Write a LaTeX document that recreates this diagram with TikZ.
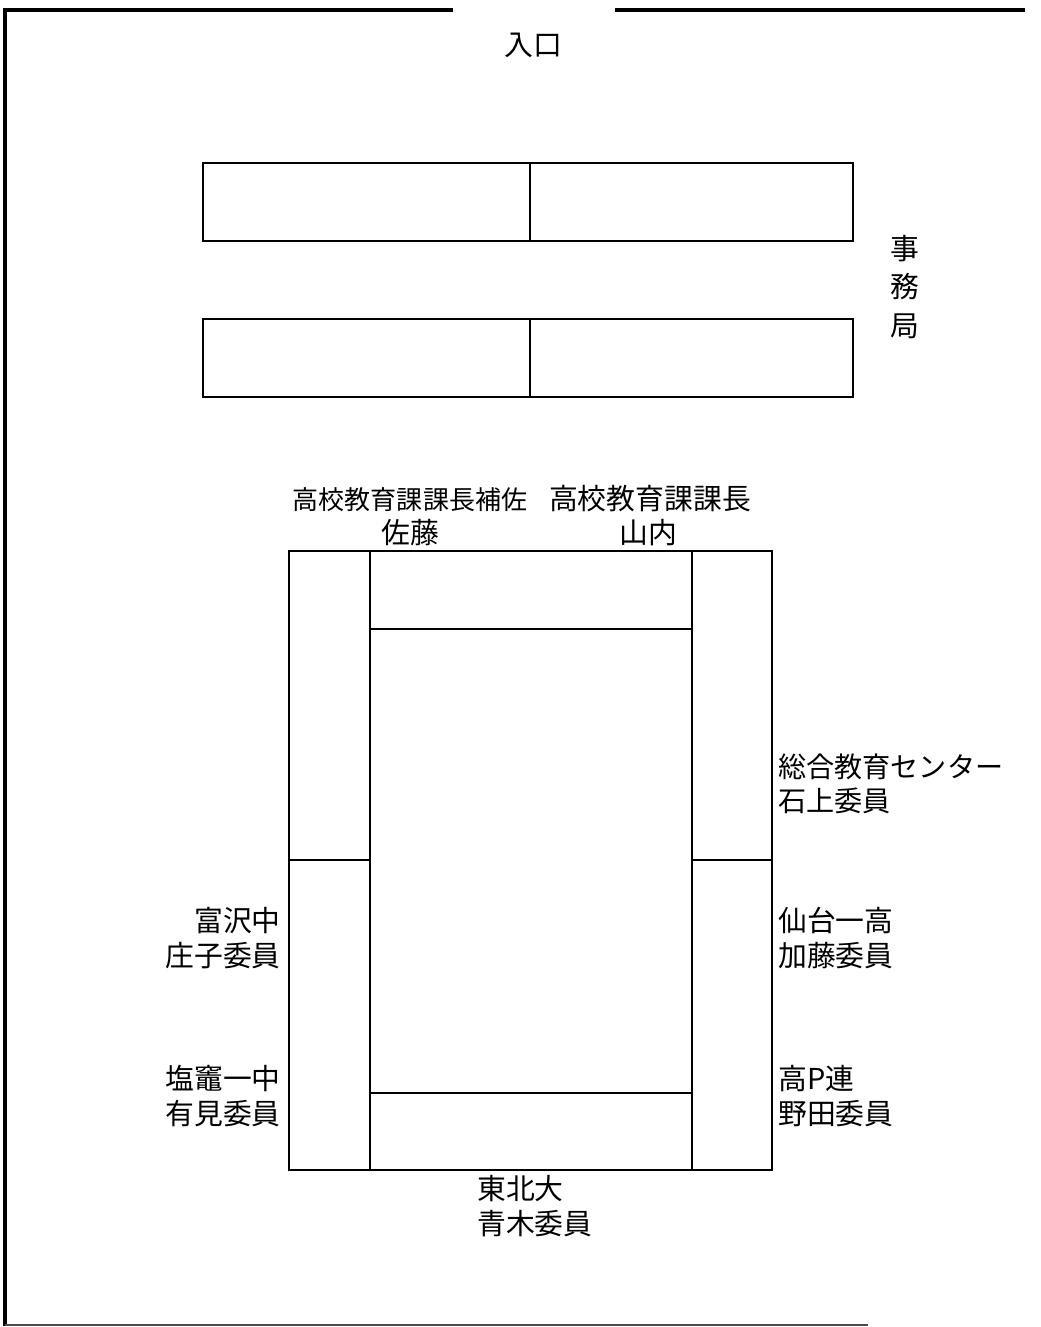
\documentclass[tikz,border=0pt]{standalone}
\usepackage{fontspec}
\setmainfont{Noto Sans CJK JP}
\usepackage{tikz}
\usetikzlibrary{positioning}
\tikzset{
every node/.style={ % text of the labels
inner sep=0pt,
font=\fontsize{20.5}{24.5}\selectfont},
desk/.style={line width=1.4pt}, % tables
wall/.style={line width=3.5pt}, % room outline
thin wall/.style={line width=1pt, black!70},
small label/.style={font=\fontsize{18.5}{22}\selectfont},
tall label/.style={align=center, font=\fontsize{20.5}{27.5}\selectfont}}

\begin{document}
\begin{tikzpicture}[x=0.025cm, y=-0.025cm]
\useasboundingbox (0,0) rectangle (1040,1327);
% room
\draw[wall] (5,10) -- (453,10);
\draw[wall] (615,10) -- (1025,10);
\draw[wall] (5,8) -- (5,1326);
\draw[thin wall] (5,1325) -- (868,1325);
\node (entrance) at (533,45) {入口};
% secretariat tables
\draw[desk] (203,163) rectangle (853,241);
\draw[desk] (530,163) -- (530,241);
\draw[desk] (203,319) rectangle (853,397);
\draw[desk] (530,319) -- (530,397);
\node[tall label] (office) at (905,287) {事\\務\\局};
% meeting table
\draw[desk] (289,551) rectangle (772,1170);
\draw[desk] (370,551) -- (370,1170);
\draw[desk] (692,551) -- (692,1170);
\draw[desk] (289,860) -- (370,860);
\draw[desk] (692,860) -- (772,860);
\draw[desk] (370,629) -- (692,629);
\draw[desk] (370,1093) -- (692,1093);
% members
\node[small label] (sato title) at (410,500) {高校教育課課長補佐};
\node (sato) at (410,533) {佐藤};
\node (yamauchi title) at (650,499) {高校教育課課長};
\node (yamauchi) at (648,533) {山内};
\node[align=left, anchor=west, font=\fontsize{20}{24.5}\selectfont] (ishigami) at (778,784) {総合教育センター\\石上委員};
\node[align=left, anchor=west] (kato) at (778,938) {仙台一高\\加藤委員};
\node[align=left, anchor=west] (noda) at (778,1096) {高P連\\野田委員};
\node[align=right, anchor=east] (shoji) at (281,938) {富沢中\\庄子委員};
\node[align=right, anchor=east] (arimi) at (281,1096) {塩竈一中\\有見委員};
\node[align=left, anchor=west] (aoki) at (477,1206) {東北大\\青木委員};
\end{tikzpicture}
\end{document}
